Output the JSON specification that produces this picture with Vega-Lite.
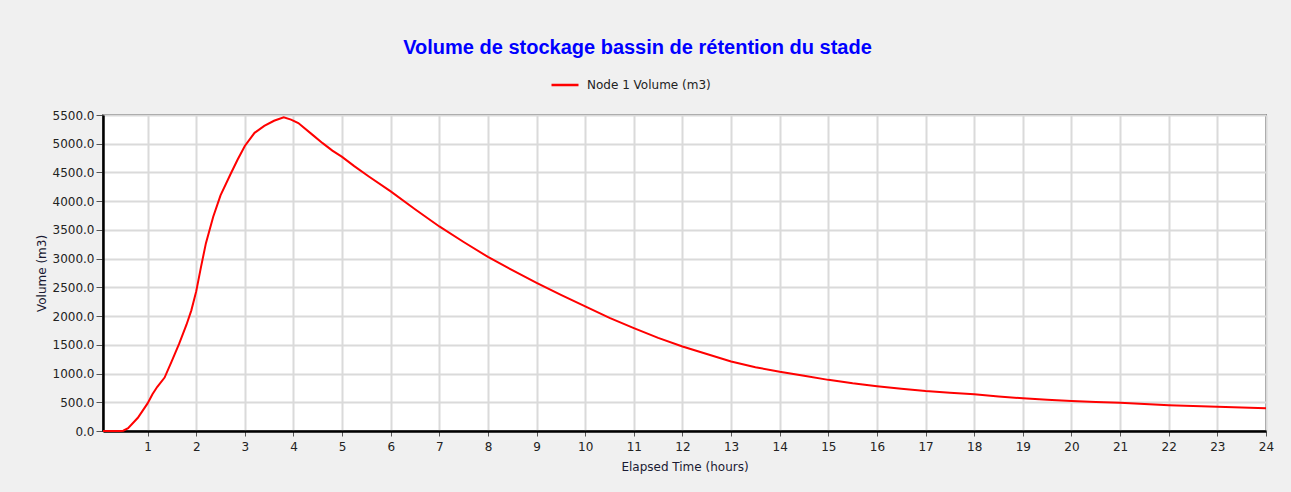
{
  "$schema": "https://vega.github.io/schema/vega-lite/v6.json",
  "width": 1163,
  "height": 316,
  "autosize": {"type": "none"},
  "padding": {"left": 103, "top": 115, "right": 25, "bottom": 61},
  "background": "#f0f0f0",
  "title": {
    "text": "Volume de stockage bassin de rétention du stade",
    "font": "Liberation Sans",
    "fontSize": 20,
    "fontWeight": "bold",
    "color": "#0000ff",
    "anchor": "middle",
    "frame": "group",
    "dx": -47,
    "offset": 12
  },
  "config": {
    "view": {"fill": "#ffffff", "stroke": "#808080", "strokeWidth": 2},
    "font": "DejaVu Sans",
    "axis": {
      "labelFont": "DejaVu Sans",
      "labelFontSize": 12,
      "labelColor": "#222222",
      "titleFont": "DejaVu Sans",
      "titleFontSize": 12,
      "titleFontWeight": "normal",
      "titleColor": "#1a1a33",
      "gridColor": "#dadada",
      "gridWidth": 2,
      "gridOpacity": 1,
      "domainColor": "#000000",
      "domainWidth": 2.5,
      "tickColor": "#555555",
      "tickWidth": 1
    }
  },
  "data": {
    "values": [
      {"t": 0.0833, "v": 0},
      {"t": 0.25, "v": 0},
      {"t": 0.45, "v": 0},
      {"t": 0.5, "v": 5},
      {"t": 0.6, "v": 50},
      {"t": 0.8, "v": 230},
      {"t": 1.0, "v": 480},
      {"t": 1.1, "v": 640},
      {"t": 1.2, "v": 770},
      {"t": 1.35, "v": 930},
      {"t": 1.5, "v": 1220},
      {"t": 1.65, "v": 1520},
      {"t": 1.8, "v": 1850},
      {"t": 1.9, "v": 2100},
      {"t": 2.0, "v": 2430},
      {"t": 2.1, "v": 2860},
      {"t": 2.2, "v": 3270},
      {"t": 2.35, "v": 3730},
      {"t": 2.5, "v": 4100},
      {"t": 2.7, "v": 4460},
      {"t": 2.85, "v": 4720},
      {"t": 3.0, "v": 4960},
      {"t": 3.2, "v": 5190},
      {"t": 3.4, "v": 5310},
      {"t": 3.6, "v": 5400},
      {"t": 3.8, "v": 5460},
      {"t": 3.95, "v": 5420},
      {"t": 4.1, "v": 5360},
      {"t": 4.4, "v": 5150},
      {"t": 4.6, "v": 5010},
      {"t": 4.8, "v": 4880},
      {"t": 5.0, "v": 4770},
      {"t": 5.25, "v": 4610},
      {"t": 5.55, "v": 4430},
      {"t": 6.0, "v": 4170},
      {"t": 6.5, "v": 3860},
      {"t": 7.0, "v": 3560},
      {"t": 7.5, "v": 3290},
      {"t": 8.0, "v": 3030},
      {"t": 8.5, "v": 2800},
      {"t": 9.0, "v": 2580},
      {"t": 9.5, "v": 2370},
      {"t": 10.0, "v": 2170},
      {"t": 10.5, "v": 1970},
      {"t": 11.0, "v": 1790},
      {"t": 11.5, "v": 1620},
      {"t": 12.0, "v": 1470},
      {"t": 12.5, "v": 1340},
      {"t": 13.0, "v": 1210},
      {"t": 13.5, "v": 1110},
      {"t": 14.0, "v": 1030},
      {"t": 14.5, "v": 960},
      {"t": 15.0, "v": 890},
      {"t": 15.5, "v": 830},
      {"t": 16.0, "v": 780},
      {"t": 16.5, "v": 735},
      {"t": 17.0, "v": 696},
      {"t": 17.5, "v": 667},
      {"t": 18.0, "v": 638},
      {"t": 18.5, "v": 600},
      {"t": 19.0, "v": 570},
      {"t": 19.5, "v": 545},
      {"t": 20.0, "v": 522},
      {"t": 20.5, "v": 505},
      {"t": 21.0, "v": 490},
      {"t": 21.5, "v": 468},
      {"t": 22.0, "v": 447},
      {"t": 22.5, "v": 435},
      {"t": 23.0, "v": 423},
      {"t": 23.5, "v": 410},
      {"t": 24.0, "v": 397}
    ]
  },
  "mark": {"type": "line", "strokeWidth": 2, "interpolate": "linear"},
  "encoding": {
    "x": {
      "field": "t",
      "type": "quantitative",
      "scale": {"domain": [0.0833, 24], "nice": false, "zero": false},
      "axis": {
        "title": "Elapsed Time (hours)",
        "values": [1,2,3,4,5,6,7,8,9,10,11,12,13,14,15,16,17,18,19,20,21,22,23,24],
        "format": "d",
        "tickSize": 5,
        "labelPadding": 5,
        "titlePadding": 9,
        "labelFlush": false,
        "labelOverlap": false
      }
    },
    "y": {
      "field": "v",
      "type": "quantitative",
      "scale": {"domain": [0, 5500], "nice": false},
      "axis": {
        "title": "Volume (m3)",
        "values": [0,500,1000,1500,2000,2500,3000,3500,4000,4500,5000,5500],
        "format": ".1f",
        "tickSize": 7,
        "labelPadding": 2,
        "titlePadding": 4,
        "labelFlush": false,
        "labelOverlap": false
      }
    },
    "color": {
      "datum": "Node 1 Volume (m3)",
      "type": "nominal",
      "scale": {"range": ["#ff0000"]},
      "legend": {
        "title": null,
        "orient": "none",
        "legendX": 447,
        "legendY": -45,
        "padding": 0,
        "symbolType": "stroke",
        "symbolSize": 729,
        "symbolStrokeWidth": 2.5,
        "labelFont": "DejaVu Sans",
        "labelFontSize": 12,
        "labelColor": "#222222",
        "labelOffset": 7
      }
    }
  }
}
